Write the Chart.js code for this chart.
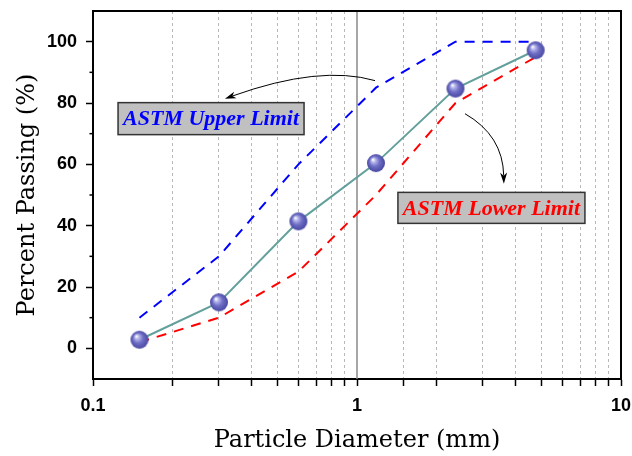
<!DOCTYPE html>
<html><head><meta charset="utf-8">
<script src="https://cdn.jsdelivr.net/npm/chart.js@4/dist/chart.umd.min.js"></script>
<style>html,body{margin:0;padding:0;background:#fff}</style>
</head><body>
<canvas id="c" width="632" height="456"></canvas>
<script>
// ---- data ----
const sieveSizes = [0.15, 0.3, 0.6, 1.18, 2.36, 4.75];
const samplePassing = [2.8, 15, 41.4, 60.4, 84.7, 97.2];
const upperLimit = [10, 30, 60, 85, 100, 100];
const lowerLimit = [2, 10, 25, 50, 80, 95];
const xTickLabels = [0.1, 1, 10];
const yTickLabels = [0, 20, 40, 60, 80, 100];
const yMinorTicks = [10, 30, 50, 70, 90];
const noteTexts = ['ASTM Upper Limit', 'ASTM Lower Limit'];

// ---- annotation layout (not data) ----
const notes = [
  {text: noteTexts[0], color: '#0000ff', x: 0.28, y: 74.9, w: 186, h: 32},
  {text: noteTexts[1], color: '#ff0000', x: 3.23, y: 45.8, w: 187, h: 31}
];
const arrows = [
  {p0: [1.17, 87.3], c: [0.724, 92.5], p2: [0.316, 81.4]},
  {p0: [2.565, 76.5], c: [3.57, 69.4], p2: [3.6, 53.7]}
];

function makeSphere(r) {
  const c = document.createElement('canvas');
  const s = 2 * r + 2;
  c.width = s; c.height = s;
  const g = c.getContext('2d');
  const cx = s / 2, cy = s / 2;
  const grad = g.createRadialGradient(cx - r * 0.35, cy - r * 0.4, r * 0.04, cx, cy, r);
  grad.addColorStop(0, '#ffffff');
  grad.addColorStop(0.22, '#b4b4ea');
  grad.addColorStop(0.55, '#6e6ec6');
  grad.addColorStop(1, '#4848a2');
  g.fillStyle = grad;
  g.beginPath(); g.arc(cx, cy, r, 0, Math.PI * 2); g.fill();
  return c;
}
const sphere = makeSphere(9);

const isDecade = v => { const l = Math.log10(v); return Math.abs(l - Math.round(l)) < 1e-9; };
const near = (a, b) => Math.abs(a - b) < 1e-9;

const extras = {
  id: 'extras',
  beforeDatasetsDraw(chart) {
    const {ctx, chartArea: a, scales: {x}} = chart;
    ctx.save();
    ctx.strokeStyle = '#8a8a8a'; ctx.lineWidth = 1.5;
    const px = x.getPixelForValue(1);
    ctx.beginPath(); ctx.moveTo(px, a.top); ctx.lineTo(px, a.bottom); ctx.stroke();
    ctx.restore();
  },
  afterDatasetsDraw(chart) {
    const {ctx, chartArea: a, scales: {x, y}} = chart;
    ctx.save();
    ctx.strokeStyle = '#000'; ctx.lineWidth = 1.5;
    yMinorTicks.forEach(v => {
      const py = y.getPixelForValue(v);
      ctx.beginPath(); ctx.moveTo(a.left - 3.5, py); ctx.lineTo(a.left, py); ctx.stroke();
    });
    ctx.lineWidth = 1; ctx.strokeStyle = '#000'; ctx.fillStyle = '#000';
    arrows.forEach(ar => {
      const P0 = [x.getPixelForValue(ar.p0[0]), y.getPixelForValue(ar.p0[1])];
      const C = [x.getPixelForValue(ar.c[0]), y.getPixelForValue(ar.c[1])];
      const P2 = [x.getPixelForValue(ar.p2[0]), y.getPixelForValue(ar.p2[1])];
      const ang = Math.atan2(P2[1] - C[1], P2[0] - C[0]);
      const L = 11, W = 3.5;
      const bx = P2[0] - L * Math.cos(ang), by = P2[1] - L * Math.sin(ang);
      ctx.beginPath(); ctx.moveTo(P0[0], P0[1]);
      ctx.quadraticCurveTo(C[0], C[1], bx + 3 * Math.cos(ang), by + 3 * Math.sin(ang)); ctx.stroke();
      ctx.beginPath();
      ctx.moveTo(P2[0], P2[1]);
      ctx.lineTo(bx + W * Math.sin(ang), by - W * Math.cos(ang));
      ctx.lineTo(bx + 3 * Math.cos(ang), by + 3 * Math.sin(ang));
      ctx.lineTo(bx - W * Math.sin(ang), by + W * Math.cos(ang));
      ctx.closePath(); ctx.fill();
    });
    notes.forEach(n => {
      const cx = x.getPixelForValue(n.x), cy = y.getPixelForValue(n.y);
      ctx.fillStyle = '#c0c0c0';
      ctx.fillRect(cx - n.w / 2, cy - n.h / 2, n.w, n.h);
      ctx.strokeStyle = '#333'; ctx.lineWidth = 1.5;
      ctx.strokeRect(cx - n.w / 2, cy - n.h / 2, n.w, n.h);
      ctx.fillStyle = n.color;
      ctx.font = 'italic bold 22px "Liberation Serif"';
      ctx.textAlign = 'center'; ctx.textBaseline = 'middle';
      ctx.fillText(n.text, cx, cy + 1);
    });
    ctx.strokeStyle = '#000'; ctx.lineWidth = 2;
    ctx.beginPath();
    ctx.moveTo(a.left, a.top); ctx.lineTo(a.right, a.top); ctx.lineTo(a.right, a.bottom);
    ctx.stroke();
    ctx.restore();
  }
};

const pts = arr => sieveSizes.map((s, i) => ({x: s, y: arr[i]}));
const zeroPad = s => { s.paddingLeft = 0; s.paddingRight = 0; s.paddingTop = 0; s.paddingBottom = 0; };

new Chart(document.getElementById('c'), {
  type: 'line',
  data: {
    datasets: [
      {label: 'Sample', data: pts(samplePassing), borderColor: '#63a09b', borderWidth: 2,
       pointStyle: sphere, pointRadius: 9, pointHoverRadius: 9, order: 0, tension: 0},
      {label: 'ASTM Upper Limit', data: pts(upperLimit), borderColor: '#0000ff', borderWidth: 2,
       borderDash: [10, 8], pointRadius: 0, order: 1},
      {label: 'ASTM Lower Limit', data: pts(lowerLimit), borderColor: '#ff0000', borderWidth: 2,
       borderDash: [10, 8], pointRadius: 0, order: 2}
    ]
  },
  options: {
    responsive: false, animation: false, devicePixelRatio: 1,
    layout: {padding: {top: 10, right: 10, left: 0, bottom: 0}},
    plugins: {legend: {display: false}, tooltip: {enabled: false}},
    scales: {
      x: {
        type: 'logarithmic', min: 0.1, max: 10,
        afterFit: s => { s.height = 77; zeroPad(s); },
        ticks: {
          autoSkip: false, maxRotation: 0, padding: 9, color: '#000',
          font: {family: '"Liberation Sans", Arial', weight: 'bold', size: 18},
          callback: v => { const n = Number(v); const hit = xTickLabels.find(t => near(t, n)); return hit !== undefined ? String(hit) : ''; }
        },
        grid: {
          drawOnChartArea: true, tickLength: 7, tickColor: '#000', tickWidth: 1.5,
          color: c => (c.tick && isDecade(c.tick.value)) ? 'rgba(0,0,0,0)' : '#b8b8b8',
          lineWidth: 1
        },
        border: {color: '#000', width: 2, dash: [3, 3]},
        title: {display: true, text: 'Particle Diameter (mm)', color: '#000',
          font: {family: '"DejaVu Serif"', size: 24, weight: 'normal'}, padding: {top: 0, bottom: 1}}
      },
      y: {
        min: -10, max: 110,
        afterFit: s => { s.width = 93; zeroPad(s); },
        ticks: {
          stepSize: 10, padding: 9, color: '#000',
          font: {family: '"Liberation Sans", Arial', weight: 'bold', size: 18},
          callback: v => yTickLabels.includes(v) ? String(v) : ''
        },
        grid: {
          drawOnChartArea: false, tickLength: 7, tickWidth: 1.5,
          tickColor: c => (c.tick && yTickLabels.includes(c.tick.value)) ? '#000' : 'rgba(0,0,0,0)'
        },
        border: {color: '#000', width: 2},
        title: {display: true, text: 'Percent Passing (%)', color: '#000',
          font: {family: '"DejaVu Serif"', size: 24, weight: 'normal'}, padding: {top: 13, bottom: 0}}
      }
    }
  },
  plugins: [extras]
});
</script>
</body></html>
